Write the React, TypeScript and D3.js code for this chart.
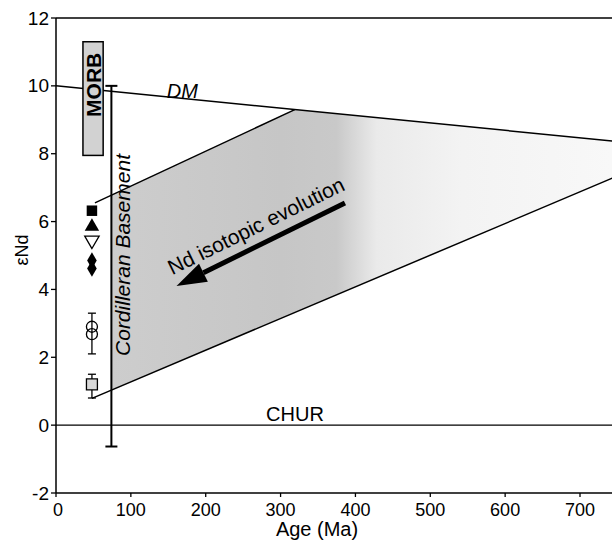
import React from "react";
import * as d3 from "d3";

// ---- data ----
const xTicks = [0, 100, 200, 300, 400, 500, 600, 700];
const yTicks = [-2, 0, 2, 4, 6, 8, 10, 12];
const dmLine: [number, number][] = [[0, 10], [800, 8.25]];
const churLine: [number, number][] = [[0, 0], [800, 0]];
const wedgeUpper: [number, number][] = [[52, 6.55], [319, 9.3]];
const wedgeLower: [number, number][] = [[48, 0.79], [800, 7.81]];
const shadedArea: [number, number][] = [[74, 6.78], [319, 9.3], [800, 8.25], [800, 7.81], [74, 1.03]];
const morbBox = { age0: 36, age1: 63, e0: 7.95, e1: 11.3 };
const basementBar = { age: 74, lo: -0.63, hi: 10.0 };
const sampleAge = 48;
const filledSquares = [6.32];
const filledUpTriangles = [5.85];
const openDownTriangles = [5.45];
const filledDiamonds = [4.85, 4.62];
const openCircles = [2.9, 2.68];
const circleError = [2.1, 3.3];
const graySquares = [1.2];
const graySquareError = [0.8, 1.5];
const arrowFrom: [number, number] = [386, 6.55];
const arrowTo: [number, number] = [161, 4.1];

const W = 612;
const H = 542;
const FONT = "'Liberation Sans', Arial, Helvetica, sans-serif";

export default function App() {
  const x = d3.scaleLinear().domain([0, 700]).range([56, 580]);
  const y = d3.scaleLinear().domain([-2, 12]).range([493, 18]);
  const line = d3.line<[number, number]>().x((d) => x(d[0])).y((d) => y(d[1]));
  const sym = (type: d3.SymbolType, size: number) => d3.symbol().type(type).size(size)()!;

  // arrow geometry (pixel space from scales)
  const tx = x(arrowFrom[0]), ty = y(arrowFrom[1]);
  const hx = x(arrowTo[0]), hy = y(arrowTo[1]);
  const ang = Math.atan2(hy - ty, hx - tx);
  const headLen = 30, headW = 10;
  const bx = hx - headLen * Math.cos(ang), by = hy - headLen * Math.sin(ang);
  const nx = -Math.sin(ang), ny = Math.cos(ang);
  const head = `M${hx},${hy}L${bx + nx * headW},${by + ny * headW}L${bx - nx * headW},${by - ny * headW}Z`;
  const textAngle = (Math.atan2(ty - hy, tx - hx) * 180) / Math.PI;
  const mx = (tx + hx) / 2, my = (ty + hy) / 2;
  const ta = (textAngle * Math.PI) / 180;
  const upx = Math.sin(ta), upy = -Math.cos(ta);
  const labX = mx + upx * 19 + Math.cos(ta) * 4;
  const labY = my + upy * 19 + Math.sin(ta) * 4;

  const px = x(sampleAge);

  return (
    <svg width={W} height={H} style={{ position: "absolute", left: 0, top: 0, background: "#fff" }} fontFamily={FONT}>
      <defs>
        <linearGradient id="shade" gradientUnits="userSpaceOnUse" x1={x(74)} y1={0} x2={W} y2={0}>
          <stop offset="0" stopColor="#cdcdcd" />
          <stop offset="0.34" stopColor="#c6c6c6" />
          <stop offset="0.45" stopColor="#c9c9c9" />
          <stop offset="0.53" stopColor="#eaeaea" />
          <stop offset="0.7" stopColor="#f3f3f3" />
          <stop offset="1" stopColor="#f8f8f8" />
        </linearGradient>
      </defs>

      {/* shaded evolution field */}
      <path d={line(shadedArea)! + "Z"} fill="url(#shade)" stroke="none" />

      {/* reference lines */}
      <path d={line(dmLine)!} fill="none" stroke="#000" strokeWidth={1.5} />
      <path d={line(churLine)!} fill="none" stroke="#000" strokeWidth={1.3} />
      <path d={line(wedgeUpper)!} fill="none" stroke="#000" strokeWidth={1.5} />
      <path d={line(wedgeLower)!} fill="none" stroke="#000" strokeWidth={1.5} />

      {/* frame */}
      <line x1={x(0)} x2={W} y1={y(12)} y2={y(12)} stroke="#000" strokeWidth={1.5} />
      <line x1={x(0)} x2={W} y1={y(-2)} y2={y(-2)} stroke="#000" strokeWidth={1.5} />
      <line x1={x(0)} x2={x(0)} y1={y(12)} y2={y(-2)} stroke="#000" strokeWidth={1.5} />

      {/* axes ticks */}
      {yTicks.map((t) => (
        <g key={"y" + t}>
          <line x1={x(0) - 5} x2={x(0)} y1={y(t)} y2={y(t)} stroke="#000" strokeWidth={1.3} />
          <text x={x(0) - 7} y={y(t)} textAnchor="end" dominantBaseline="central" fontSize={19}>
            {t}
          </text>
        </g>
      ))}
      {xTicks.map((t) => (
        <g key={"x" + t}>
          <line x1={x(t)} x2={x(t)} y1={y(-2)} y2={y(-2) + 4} stroke="#000" strokeWidth={1.3} />
          <text x={x(t) + (t === 0 ? 2 : 0)} y={516} textAnchor="middle" fontSize={18}>
            {t}
          </text>
        </g>
      ))}
      <text x={317} y={536} textAnchor="middle" fontSize={20}>Age (Ma)</text>
      <text transform={`translate(28,250) rotate(-90)`} textAnchor="middle" fontSize={18}>εNd</text>

      {/* MORB box */}
      <rect
        x={x(morbBox.age0)}
        y={y(morbBox.e1)}
        width={x(morbBox.age1) - x(morbBox.age0)}
        height={y(morbBox.e0) - y(morbBox.e1)}
        fill="#d2d2d2"
        stroke="#000"
        strokeWidth={1.5}
      />
      <text
        transform={`translate(${(x(morbBox.age0) + x(morbBox.age1)) / 2 + 8},${y(10.03)}) rotate(-90)`}
        textAnchor="middle"
        fontSize={21}
        fontWeight="bold"
      >
        MORB
      </text>

      {/* Cordilleran basement bar */}
      <line x1={x(basementBar.age)} x2={x(basementBar.age)} y1={y(basementBar.hi)} y2={y(basementBar.lo)} stroke="#000" strokeWidth={2} />
      <line x1={x(basementBar.age) - 6} x2={x(basementBar.age) + 6} y1={y(basementBar.hi)} y2={y(basementBar.hi)} stroke="#000" strokeWidth={2} />
      <line x1={x(basementBar.age) - 6} x2={x(basementBar.age) + 6} y1={y(basementBar.lo)} y2={y(basementBar.lo)} stroke="#000" strokeWidth={2} />
      <text transform={`translate(${x(basementBar.age) + 19},255) rotate(-90)`} textAnchor="middle" fontSize={21} fontStyle="italic">
        Cordilleran Basement
      </text>

      {/* labels */}
      <text x={x(148)} y={y(9.65)} fontSize={20} fontStyle="italic">DM</text>
      <text x={295} y={421} textAnchor="middle" fontSize={20}>CHUR</text>

      {/* error bars */}
      <line x1={px} x2={px} y1={y(circleError[0])} y2={y(circleError[1])} stroke="#000" strokeWidth={1.3} />
      <line x1={px - 4} x2={px + 4} y1={y(circleError[0])} y2={y(circleError[0])} stroke="#000" strokeWidth={1.3} />
      <line x1={px - 4} x2={px + 4} y1={y(circleError[1])} y2={y(circleError[1])} stroke="#000" strokeWidth={1.3} />
      <line x1={px} x2={px} y1={y(graySquareError[0])} y2={y(graySquareError[1])} stroke="#000" strokeWidth={1.3} />
      <line x1={px - 4} x2={px + 4} y1={y(graySquareError[0])} y2={y(graySquareError[0])} stroke="#000" strokeWidth={1.3} />
      <line x1={px - 4} x2={px + 4} y1={y(graySquareError[1])} y2={y(graySquareError[1])} stroke="#000" strokeWidth={1.3} />

      {/* sample symbols */}
      {filledSquares.map((v, i) => (
        <path key={"fs" + i} d={sym(d3.symbolSquare, 110)} transform={`translate(${px},${y(v)})`} fill="#000" />
      ))}
      {filledUpTriangles.map((v, i) => (
        <path key={"ft" + i} d={sym(d3.symbolTriangle, 90)} transform={`translate(${px},${y(v)})`} fill="#000" />
      ))}
      {openDownTriangles.map((v, i) => (
        <path key={"ot" + i} d={sym(d3.symbolTriangle, 90)} transform={`translate(${px},${y(v)}) rotate(180)`} fill="#fff" stroke="#000" strokeWidth={1.3} />
      ))}
      {filledDiamonds.map((v, i) => (
        <path key={"fd" + i} d={sym(d3.symbolDiamond, 80)} transform={`translate(${px},${y(v)})`} fill="#000" />
      ))}
      {openCircles.map((v, i) => (
        <circle key={"oc" + i} cx={px} cy={y(v)} r={5.5} fill="none" stroke="#000" strokeWidth={1.3} />
      ))}
      {graySquares.map((v, i) => (
        <path key={"gs" + i} d={sym(d3.symbolSquare, 120)} transform={`translate(${px},${y(v)})`} fill="#d8d8d8" stroke="#000" strokeWidth={1.3} />
      ))}

      {/* evolution arrow */}
      <line x1={tx} y1={ty} x2={bx} y2={by} stroke="#000" strokeWidth={5} />
      <path d={head} fill="#000" />
      <text
        transform={`translate(${labX},${labY}) rotate(${textAngle})`}
        textAnchor="middle"
        dominantBaseline="central"
        fontSize={21}
      >
        Nd isotopic evolution
      </text>
    </svg>
  );
}
